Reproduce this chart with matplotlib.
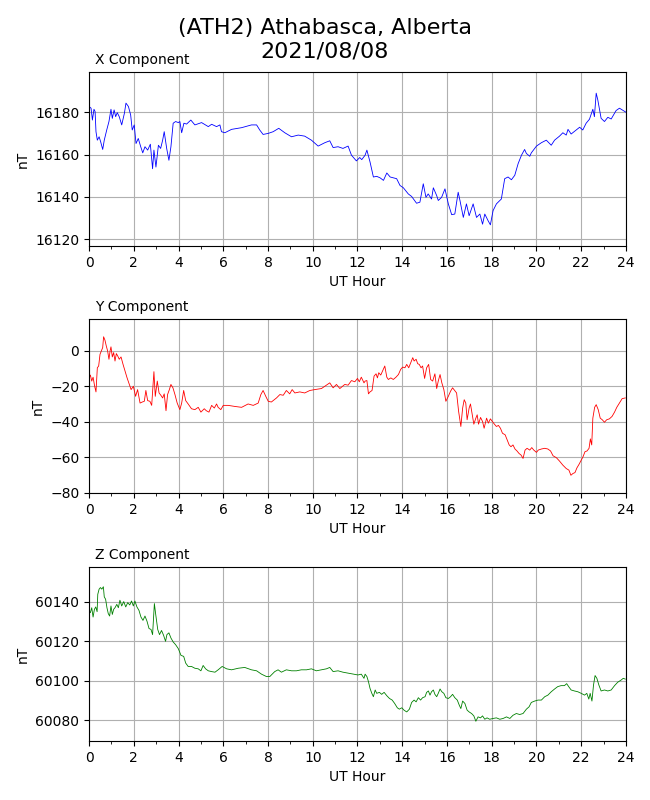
import numpy as np
import matplotlib
matplotlib.use("Agg")
import matplotlib.pyplot as plt
from matplotlib.ticker import MultipleLocator

station = "(ATH2) Athabasca, Alberta"
day = "2021/08/08"

# X component (hours, nT)
x_hours = [0.00, 0.09, 0.15, 0.22, 0.27, 0.31, 0.37, 0.45, 0.52, 0.61, 0.68, 0.79, 0.89, 0.98,
           1.04, 1.12, 1.19, 1.26, 1.35, 1.46, 1.58, 1.65, 1.76, 1.86, 1.93, 2.02, 2.10, 2.20,
           2.31, 2.40, 2.50, 2.62, 2.74, 2.84, 2.90, 2.99, 3.10, 3.20, 3.29, 3.36, 3.47, 3.57,
           3.66, 3.76, 3.87, 3.99, 4.06, 4.14, 4.24, 4.36, 4.55, 4.73, 5.03, 5.33, 5.48, 5.70,
           5.85, 5.92, 6.07, 6.37, 6.82, 7.26, 7.49, 7.63, 7.78, 8.01, 8.23, 8.48, 8.75, 9.05,
           9.35, 9.64, 9.94, 10.24, 10.54, 10.76, 10.91, 11.13, 11.35, 11.58, 11.73, 11.95,
           12.10, 12.19, 12.34, 12.42, 12.56, 12.71, 12.86, 13.01, 13.16, 13.31, 13.46, 13.75,
           13.90, 14.05, 14.27, 14.42, 14.64, 14.79, 14.94, 15.06, 15.16, 15.31, 15.39, 15.54,
           15.61, 15.76, 15.91, 16.06, 16.21, 16.35, 16.50, 16.58, 16.73, 16.87, 16.99, 17.17,
           17.32, 17.47, 17.59, 17.69, 17.84, 17.94, 18.06, 18.21, 18.43, 18.58, 18.73, 18.88,
           19.03, 19.18, 19.33, 19.47, 19.55, 19.70, 19.77, 20.00, 20.22, 20.44, 20.66, 20.81,
           21.03, 21.18, 21.33, 21.41, 21.55, 21.78, 21.93, 22.07, 22.22, 22.37, 22.52, 22.59,
           22.67, 22.74, 22.89, 23.04, 23.19, 23.34, 23.56, 23.71, 24.00]
x_values = [16182.7, 16181.9, 16176.3, 16181.4, 16180.3, 16170.8, 16166.8, 16168.4, 16166.0,
            16162.4, 16166.8, 16171.6, 16175.6, 16181.4, 16177.1, 16181.1, 16177.9, 16179.8,
            16177.9, 16174.0, 16179.5, 16184.3, 16182.7, 16178.7, 16171.6, 16174.0, 16165.2,
            16167.6, 16163.7, 16160.8, 16163.7, 16162.1, 16164.9, 16153.3, 16162.1, 16154.1,
            16164.4, 16162.9, 16166.8, 16170.8, 16162.9, 16157.3, 16163.7, 16174.8, 16175.6,
            16175.1, 16175.6, 16170.3, 16174.8, 16174.4, 16176.3, 16174.0, 16175.1, 16173.2,
            16174.3, 16173.2, 16174.0, 16170.8, 16170.3, 16171.9, 16172.7, 16174.0, 16174.0,
            16171.6, 16169.5, 16170.0, 16170.8, 16172.4, 16170.3, 16168.4, 16169.2, 16168.7,
            16166.8, 16164.0, 16165.6, 16166.5, 16163.3, 16163.7, 16162.9, 16164.0, 16159.7,
            16157.0, 16158.6, 16157.6, 16159.7, 16162.1, 16156.5, 16149.4, 16149.7, 16149.0,
            16147.8, 16151.3, 16149.4, 16148.6, 16145.4, 16144.3, 16141.4, 16140.2, 16137.0,
            16137.5, 16146.2, 16139.8, 16141.4, 16139.0, 16144.3, 16140.6, 16138.3, 16139.8,
            16143.8, 16136.7, 16131.6, 16131.9, 16142.2, 16138.3, 16130.3, 16136.7, 16131.1,
            16136.7, 16130.3, 16131.9, 16127.1, 16131.9, 16128.7, 16126.8, 16133.5, 16136.7,
            16139.0, 16148.6, 16149.4, 16148.1, 16150.2, 16155.7, 16159.7, 16162.4, 16160.5,
            16159.2, 16160.8, 16164.0, 16165.6, 16166.8, 16164.4, 16166.8, 16168.7, 16170.3,
            16169.2, 16171.9, 16169.7, 16171.6, 16172.9, 16171.6, 16174.8, 16176.7, 16181.4,
            16177.9, 16189.0, 16185.9, 16177.1, 16175.6, 16177.6, 16176.8, 16180.8, 16181.9,
            16180.0]

# Y component
y_hours = [0.00, 0.06, 0.12, 0.18, 0.25, 0.31, 0.37, 0.43, 0.49, 0.55, 0.61, 0.65, 0.71, 0.77,
           0.83, 0.89, 0.94, 0.98, 1.04, 1.10, 1.16, 1.22, 1.28, 1.35, 1.43, 1.52, 1.61, 1.70,
           1.80, 1.88, 1.98, 2.08, 2.17, 2.28, 2.38, 2.47, 2.54, 2.62, 2.72, 2.80, 2.90, 2.96,
           3.05, 3.13, 3.21, 3.29, 3.36, 3.44, 3.51, 3.59, 3.66, 3.75, 3.84, 3.94, 4.06, 4.14,
           4.23, 4.32, 4.43, 4.58, 4.73, 4.88, 5.00, 5.15, 5.24, 5.36, 5.48, 5.60, 5.70, 5.77,
           5.89, 6.00, 6.22, 6.52, 6.82, 7.11, 7.34, 7.56, 7.68, 7.78, 7.90, 8.01, 8.15, 8.38,
           8.53, 8.68, 8.82, 8.97, 9.08, 9.20, 9.42, 9.64, 9.87, 10.09, 10.39, 10.54, 10.76,
           10.91, 11.06, 11.21, 11.43, 11.58, 11.73, 11.88, 12.00, 12.08, 12.17, 12.29,
           12.34, 12.42, 12.49, 12.56, 12.65, 12.74, 12.83, 12.89, 12.95, 13.04, 13.13, 13.22,
           13.31, 13.38, 13.49, 13.60, 13.72, 13.83, 13.93, 14.02, 14.12, 14.20, 14.29, 14.38,
           14.47, 14.53, 14.62, 14.69, 14.76, 14.84, 14.91, 15.00, 15.09, 15.18, 15.27, 15.36,
           15.46, 15.54, 15.61, 15.69, 15.77, 15.86, 15.95, 16.06, 16.16, 16.25, 16.34, 16.43,
           16.52, 16.62, 16.70, 16.77, 16.84, 16.90, 16.99, 17.05, 17.13, 17.20, 17.29, 17.35,
           17.41, 17.50, 17.59, 17.66, 17.77, 17.85, 17.94, 18.03, 18.12, 18.21, 18.30, 18.39,
           18.48, 18.60, 18.69, 18.78, 18.86, 18.95, 19.04, 19.13, 19.22, 19.31, 19.40, 19.49,
           19.58, 19.70, 19.79, 19.88, 20.00, 20.08, 20.22, 20.37, 20.51, 20.63, 20.74, 20.89,
           21.03, 21.18, 21.33, 21.45, 21.54, 21.63, 21.72, 21.81, 21.90, 22.00, 22.08, 22.17,
           22.26, 22.35, 22.41, 22.47, 22.52, 22.60, 22.67, 22.76, 22.85, 22.94, 23.04, 23.14,
           23.26, 23.38, 23.49, 23.59, 23.71, 23.83, 23.97]
y_values = [-15.2, -13.6, -17.0, -14.8, -19.9, -23.1, -9.5, -8.5, -1.9, 0.0, 1.9, 8.0, 6.1, 2.8,
            0.0, -4.7, 0.0, 2.3, -3.4, -0.9, -5.7, -1.5, -2.8, -4.7, -3.4, -7.6, -11.4, -15.2,
            -18.9, -21.8, -19.9, -25.6, -21.8, -29.4, -28.8, -28.4, -22.3, -28.0, -28.4, -30.7,
            -11.7, -25.6, -17.0, -23.7, -25.0, -26.5, -24.2, -33.7, -24.6, -21.8, -18.9, -20.8,
            -24.6, -29.4, -33.1, -29.4, -22.3, -28.0, -29.9, -32.6, -33.1, -31.8, -34.5, -32.6,
            -33.7, -34.5, -30.7, -32.2, -29.9, -31.8, -33.1, -30.7, -30.7, -31.3, -31.8, -29.9,
            -30.7, -29.4, -24.6, -22.3, -25.6, -28.4, -28.8, -26.5, -24.6, -25.0, -22.3, -24.2,
            -21.8, -23.7, -23.1, -23.7, -22.3, -21.8, -21.2, -19.9, -18.0, -20.8, -18.9, -21.2,
            -18.9, -19.3, -16.7, -17.4, -15.5, -17.4, -14.8, -18.0,
            -17.0, -16.7, -24.2, -23.1, -22.3, -14.2, -12.9, -15.2, -12.3, -13.6, -11.0, -8.5,
            -14.8, -16.1, -15.2, -16.1, -14.8, -13.3, -10.4, -9.1, -9.5, -7.6, -9.5, -6.6,
            -3.8, -5.7, -4.7, -7.2, -7.6, -9.5, -8.5, -15.5, -9.5, -7.6, -16.1, -17.0,
            -12.9, -21.2, -17.0, -13.3, -18.0, -21.8, -28.4, -25.6, -22.7, -20.8, -22.3, -23.7,
            -34.1, -42.6, -32.2, -27.5, -29.4, -38.8, -32.2, -29.9, -36.0, -41.3, -37.9, -36.0,
            -41.3, -37.5, -39.8, -43.6, -37.9, -40.7, -38.3, -39.8, -41.3, -42.6, -42.0, -43.6,
            -46.4, -47.3, -50.2, -53.0, -54.0, -53.0, -55.3, -56.4, -57.8, -58.7, -60.6, -55.9,
            -54.9, -55.9, -54.5, -55.9, -57.2, -55.9, -55.3, -54.9, -55.3, -56.4, -59.1, -60.2,
            -62.1, -64.4, -66.3, -67.2, -70.1, -69.1, -68.6, -65.9, -64.0, -61.6, -59.7, -56.8,
            -56.4, -54.9, -49.6, -53.0, -37.9, -31.8, -30.3, -33.1, -37.9, -38.8, -40.2, -38.8,
            -38.3, -36.9, -34.5, -31.8, -29.4, -26.9, -26.5]

# Z component
z_hours = [0.00, 0.06, 0.12, 0.18, 0.24, 0.30, 0.36, 0.39, 0.45, 0.51, 0.57, 0.64, 0.68, 0.74,
           0.80, 0.86, 0.92, 0.98, 1.04, 1.10, 1.16, 1.24, 1.31, 1.38, 1.46, 1.55, 1.64, 1.73,
           1.82, 1.90, 1.98, 2.05, 2.14, 2.23, 2.32, 2.41, 2.50, 2.59, 2.68, 2.77, 2.84, 2.92,
           2.98, 3.07, 3.15, 3.24, 3.33, 3.42, 3.48, 3.57, 3.66, 3.76, 3.87, 3.99, 4.11, 4.23,
           4.32, 4.43, 4.58, 4.73, 4.88, 5.00, 5.10, 5.21, 5.33, 5.48, 5.63, 5.77, 5.95, 6.15,
           6.37, 6.67, 6.96, 7.26, 7.49, 7.71, 7.93, 8.08, 8.30, 8.45, 8.60, 8.82, 9.05, 9.27,
           9.49, 9.72, 9.94, 10.16, 10.39, 10.61, 10.76, 10.91, 11.13, 11.35, 11.58, 11.80,
           12.02, 12.17, 12.29,
           12.34, 12.42, 12.49, 12.56, 12.64, 12.71, 12.79, 12.86, 12.98, 13.08, 13.19, 13.31,
           13.43, 13.55, 13.66, 13.78, 13.87, 13.98, 14.08, 14.20, 14.32, 14.42, 14.53, 14.62,
           14.72, 14.82, 14.91, 15.02, 15.09, 15.17, 15.24, 15.31, 15.39, 15.46, 15.54, 15.61,
           15.69, 15.77, 15.86, 15.95, 16.06, 16.16, 16.25, 16.35, 16.46, 16.55, 16.62, 16.70,
           16.80, 16.90, 16.99, 17.10, 17.20, 17.29, 17.39, 17.50, 17.59, 17.69, 17.79, 17.91,
           18.06, 18.21, 18.36, 18.51, 18.66, 18.81, 18.95, 19.10, 19.25, 19.40, 19.55, 19.67,
           19.77, 19.92, 20.07, 20.22, 20.37, 20.51, 20.66, 20.81, 20.95, 21.10, 21.25, 21.35,
           21.44, 21.55, 21.70, 21.85, 22.00, 22.15, 22.25, 22.34, 22.40, 22.48, 22.55, 22.62,
           22.70, 22.79, 22.89, 23.04, 23.19, 23.34, 23.49, 23.63, 23.78, 23.88, 23.97]
z_values = [60135.2, 60134.4, 60136.9, 60132.2, 60136.1, 60137.3, 60134.9, 60143.7, 60146.3,
            60147.1, 60146.3, 60147.5, 60142.4, 60141.2, 60136.9, 60133.9, 60132.7, 60137.8,
            60133.5, 60136.1, 60136.9, 60138.6, 60136.9, 60140.7, 60137.8, 60140.0, 60137.3,
            60139.5, 60138.3, 60140.3, 60137.8, 60140.3, 60137.3, 60135.6, 60132.2, 60130.5,
            60132.7, 60130.1, 60126.4, 60125.9, 60123.3, 60139.0, 60133.5, 60125.9, 60123.3,
            60125.4, 60123.0, 60119.9, 60123.3, 60124.2, 60121.6, 60119.6, 60118.2, 60116.2,
            60112.8, 60112.3, 60108.9, 60107.2, 60107.2, 60106.3, 60106.0, 60105.0, 60107.7,
            60106.0, 60105.0, 60104.6, 60104.3, 60105.5, 60107.2, 60106.0, 60105.5, 60106.3,
            60106.7, 60105.5, 60105.0, 60103.3, 60102.1, 60102.1, 60104.6, 60105.5, 60104.3,
            60105.5, 60105.0, 60105.0, 60105.5, 60105.5, 60106.0, 60105.0, 60105.5, 60106.0,
            60106.7, 60104.6, 60105.0, 60104.3, 60103.8, 60103.3, 60102.9, 60103.3, 60101.2,
            60103.3, 60102.1, 60099.5, 60096.1, 60093.6, 60091.9, 60095.3, 60093.6, 60094.1,
            60093.1, 60094.1, 60092.4, 60091.0, 60090.2, 60088.5, 60086.3, 60085.6, 60086.3,
            60085.1, 60084.2, 60085.6, 60089.0, 60090.2, 60089.3, 60091.4, 60090.2, 60091.4,
            60091.9, 60094.1, 60094.8, 60092.7, 60094.4, 60095.3, 60093.1, 60091.9, 60093.6,
            60095.8, 60094.4, 60093.6, 60091.4, 60091.0, 60091.9, 60093.1, 60091.4, 60090.2,
            60087.6, 60085.9, 60089.7, 60088.5, 60085.1, 60084.2, 60083.4, 60082.2, 60079.5,
            60081.7, 60081.2, 60082.2, 60080.5, 60081.2, 60080.5, 60080.9, 60081.2, 60080.5,
            60080.9, 60081.7, 60080.9, 60082.5, 60083.4, 60082.9, 60083.4, 60085.6, 60086.8,
            60089.0, 60089.7, 60090.2, 60090.2, 60091.9, 60092.7, 60094.4, 60095.8, 60097.0,
            60097.5, 60097.5, 60098.5, 60097.0, 60095.3, 60094.8, 60094.4, 60093.6, 60092.7,
            60093.6, 60090.7, 60093.6, 60089.7, 60097.8, 60102.6, 60101.2, 60097.8, 60094.8,
            60095.3, 60094.8, 60095.3, 60097.5, 60099.2, 60100.3, 60101.2, 60100.8]

components = [("X Component", x_hours, x_values, "b"),
              ("Y Component", y_hours, y_values, "r"),
              ("Z Component", z_hours, z_values, "g")]

fig = plt.figure(figsize=(6.5, 8), dpi=100)
fig.suptitle(station + "\n" + day, fontsize=16, y=0.977)

bottoms = [0.6925, 0.38375, 0.07375]
for (name, hrs, vals, col), b in zip(components, bottoms):
    ax = fig.add_axes([0.137, b, 0.826, 0.2175])
    ax.plot(hrs, vals, color=col, linewidth=0.6)
    ax.set_xlim(0, 24)
    ax.set_ylim(min(vals) - 10, max(vals) + 10)
    ax.xaxis.set_major_locator(MultipleLocator(2))
    ax.xaxis.set_minor_locator(MultipleLocator(1))
    ax.yaxis.set_major_locator(MultipleLocator(20))
    ax.grid(True, which="major")
    ax.set_xlabel("UT Hour")
    ax.set_ylabel("nT")
    ax.set_title(name, loc="left", x=0.012, fontsize=10)

fig.savefig("out.png", dpi=100)
